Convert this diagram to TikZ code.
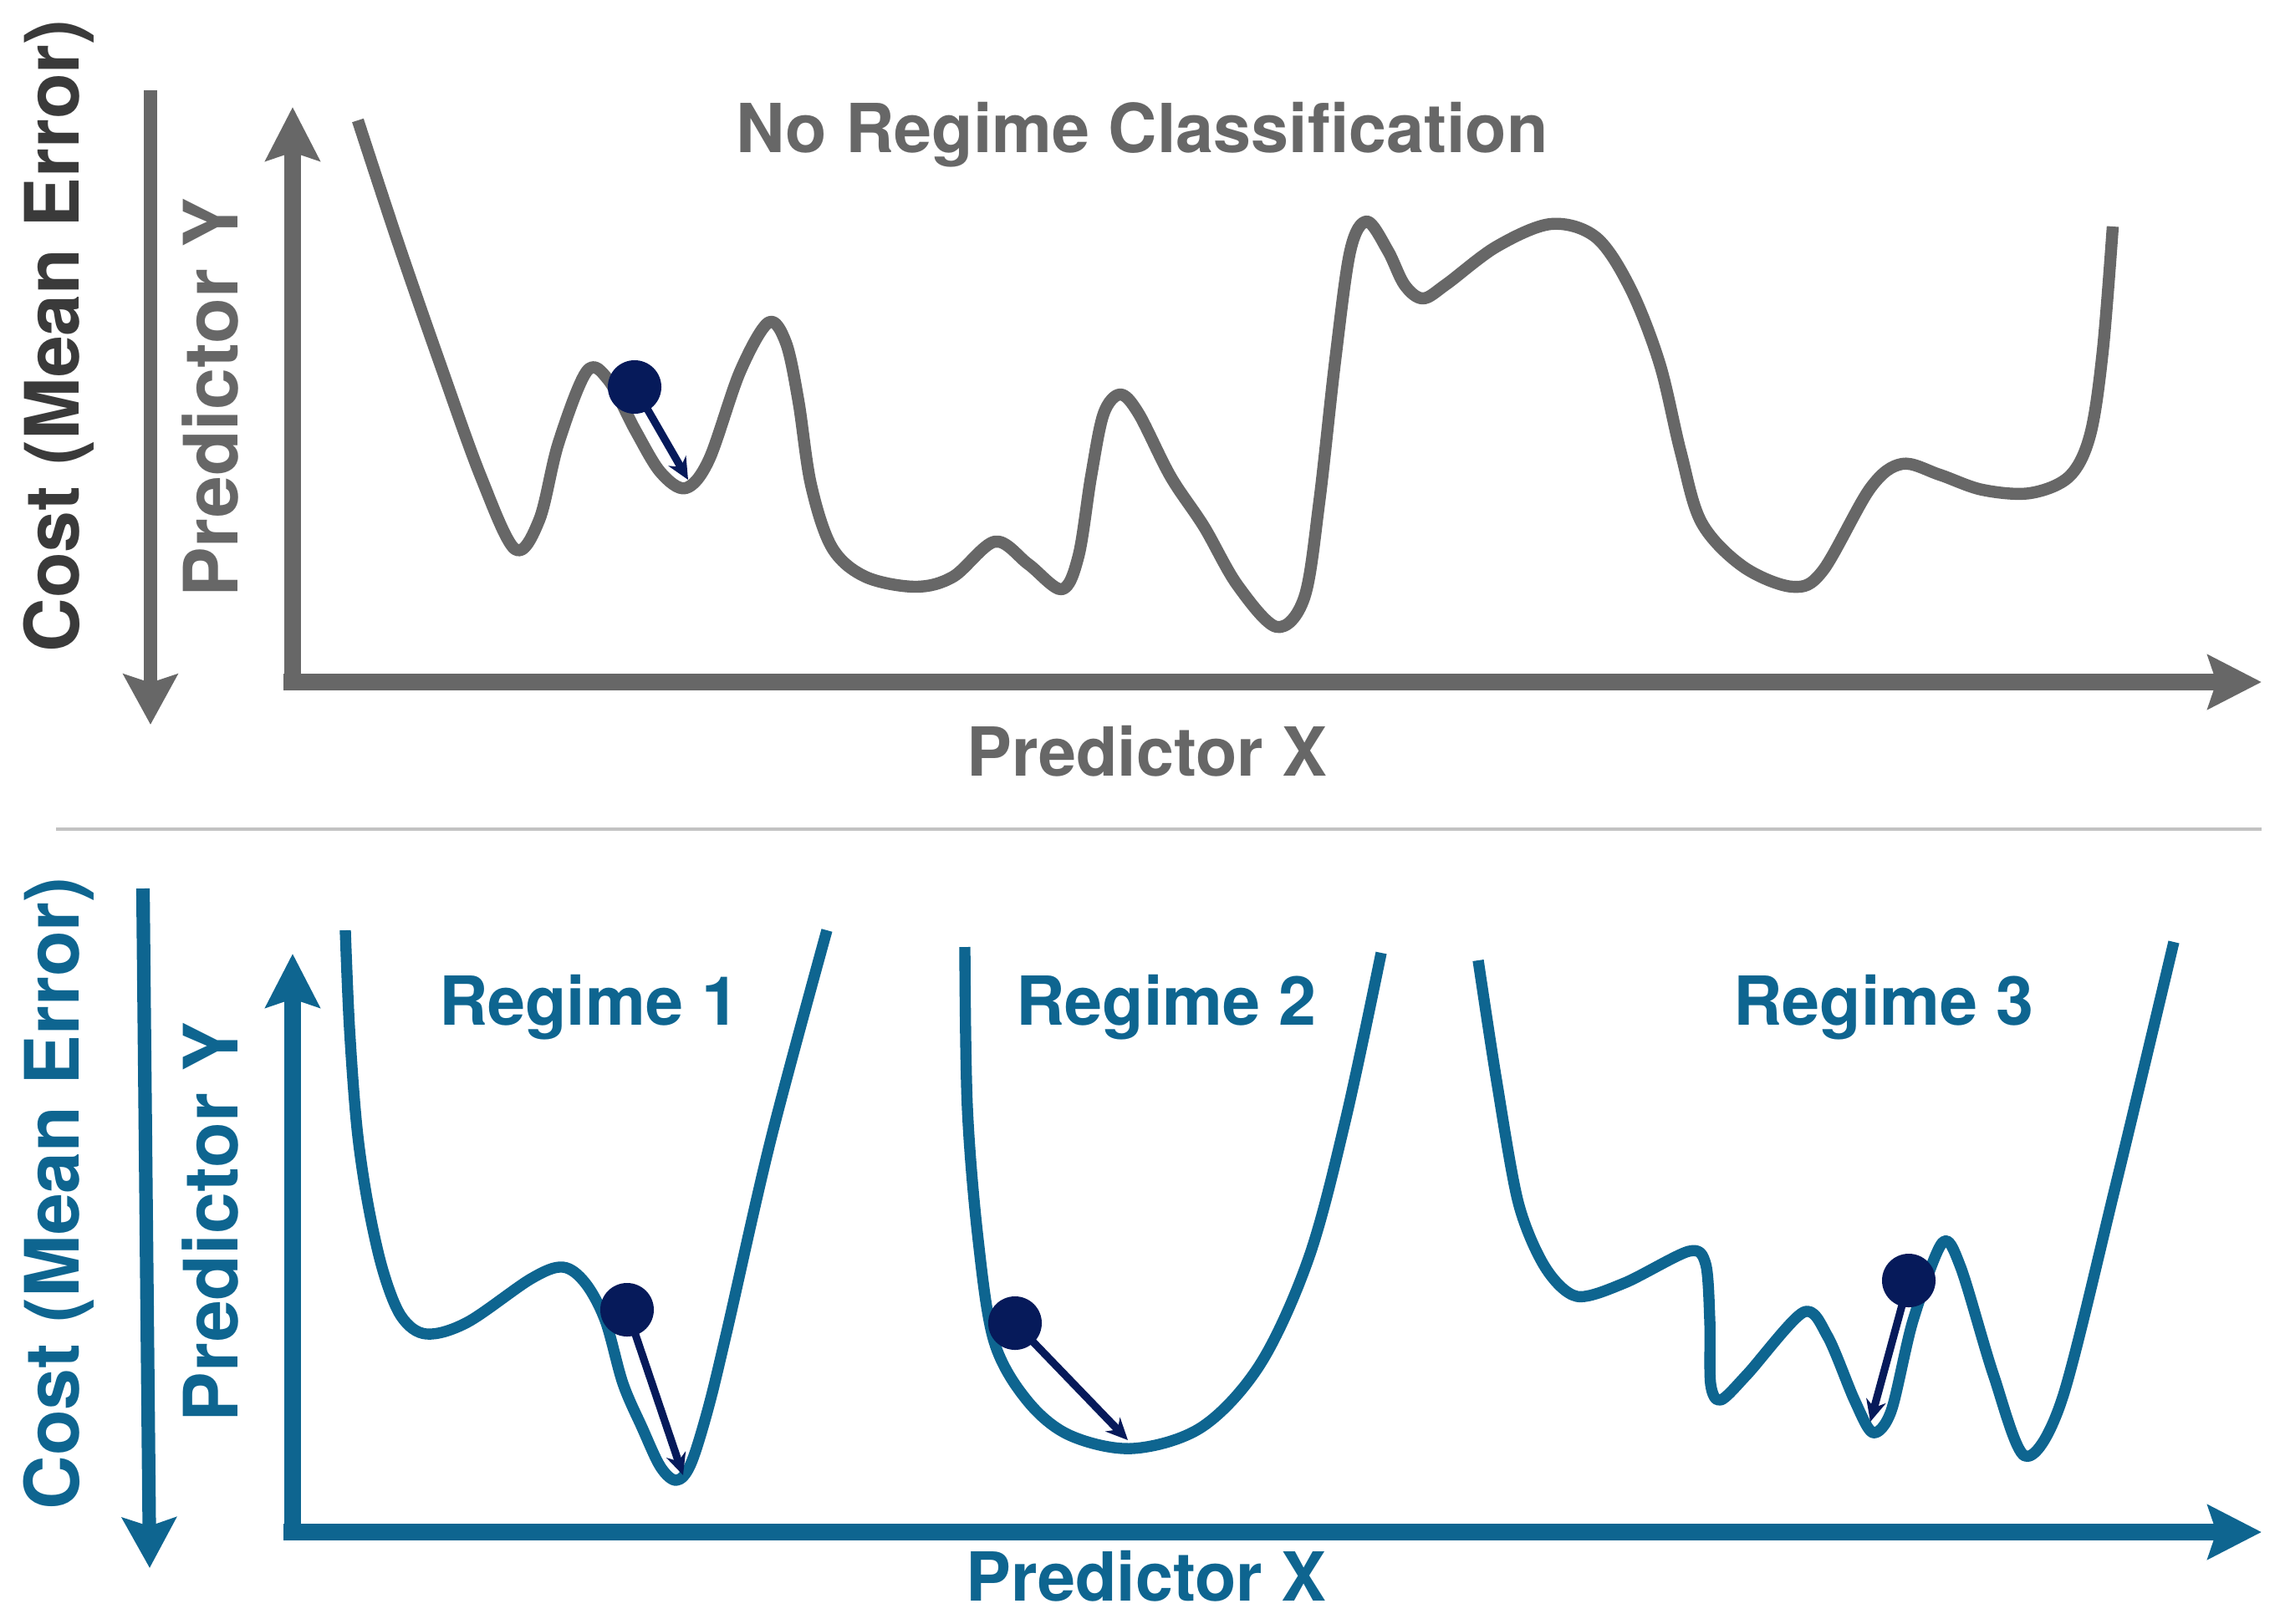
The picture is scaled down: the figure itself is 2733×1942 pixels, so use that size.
\documentclass[tikz,border=0pt]{standalone}
\usepackage{fontspec}
\setmainfont{TeX Gyre Heros}
\usetikzlibrary{arrows.meta}
\definecolor{cgray}{HTML}{676767}
\definecolor{cdark}{HTML}{3A3A3A}
\definecolor{cblue}{HTML}{0E6590}
\definecolor{cnavy}{HTML}{061A5A}
\definecolor{csep}{HTML}{C2C2C2}
\begin{document}
\begin{tikzpicture}[x=0.01cm,y=-0.01cm,
  lbl/.style={font=\fontsize{23}{24}\selectfont\bfseries, inner sep=0pt, anchor=base},
  sidelbl/.style={font=\fontsize{25.5}{26}\selectfont\bfseries, inner sep=0pt, anchor=base, rotate=90},
  axisline/.style={line width=5.8pt, -{Stealth[length=0.64cm,width=0.64cm,inset=0.1cm]}},
  costline/.style={line width=4.6pt, -{Stealth[length=0.6cm,width=0.64cm,inset=0.1cm]}},
  landscape/.style={line width=4.1pt, line join=round},
  ball/.style={circle, fill=cnavy, minimum size=0.64cm, inner sep=0pt},
  slide/.style={cnavy, line width=2.6pt, -{Stealth[length=0.26cm,width=0.24cm]}}
]
\useasboundingbox (0,0) rectangle (2733,1942);

% ---------------- top panel ----------------
\coordinate (tcTop) at (180,108);
\coordinate (tcBot) at (180,867);
\draw[costline, cgray] (tcTop) -- (tcBot);
\node[sidelbl, text=cdark] (tcost) at (94,402) {Cost (Mean Error)};
\node[sidelbl, text=cgray] (tpy) at (284,476) {Predictor Y};

\coordinate (tO) at (339,816);
\coordinate (tYtip) at (350,128);
\coordinate (tYbase) at (350,826);
\coordinate (tXtip) at (2705,816);
\draw[axisline, cgray] (tYbase) -- (tYtip);
\draw[axisline, cgray] (tO) -- (tXtip);

\node[lbl, text=cgray] (ttitle) at (1366,182) {No Regime Classification};
\node[lbl, text=cgray] (tpx) at (1372,928) {Predictor X};

\draw[landscape, cgray] plot[smooth, tension=0.55] coordinates {
 (428,144) (476,290) (527,437) (575,570) (616,657) (645,622) (668,530) (702,444)
 (728,455) (760,515) (790,565) (820,584) (848,550) (885,445) (919,386)
 (940,410) (955,480) (970,580) (995,655) (1035,690) (1095,702) (1140,690)
 (1190,648) (1230,675) (1270,705) (1290,665) (1305,570) (1320,495) (1340,472)
 (1362,495) (1400,570) (1440,630) (1480,700) (1527,750) (1560,715) (1578,600)
 (1597,431) (1615,300) (1635,265) (1660,300) (1680,341) (1702,357) (1730,340)
 (1790,295) (1855,268) (1909,284) (1950,345) (1985,435) (2010,540) (2035,625)
 (2085,678) (2144,702) (2180,683) (2237,584) (2275,555) (2320,568) (2371,586)
 (2428,590) (2475,570) (2500,520) (2515,420) (2527,271)};

\node[ball] (tball) at (759,463) {};
\coordinate (tend) at (823,574);
\draw[slide] (tball.center) -- (tend);

% separator
\coordinate (sepL) at (67,992);
\coordinate (sepR) at (2705,992);
\draw[csep, line width=1.1pt] (sepL) -- (sepR);

% ---------------- bottom panel ----------------
\coordinate (bcTop) at (171,1063);
\coordinate (bcBot) at (179,1876);
\draw[costline, cblue] (bcTop) -- (bcBot);
\node[sidelbl, text=cblue] (bcost) at (94,1428) {Cost (Mean Error)};
\node[sidelbl, text=cblue] (bpy) at (284,1462) {Predictor Y};

\coordinate (bO) at (339,1833);
\coordinate (bYtip) at (350,1141);
\coordinate (bYbase) at (350,1843);
\coordinate (bXtip) at (2705,1833);
\draw[axisline, cblue] (bYbase) -- (bYtip);
\draw[axisline, cblue] (bO) -- (bXtip);

\node[lbl, text=cblue] (bpx) at (1371,1915) {Predictor X};
\node[lbl, text=cblue] (r1) at (705,1226) {Regime 1};
\node[lbl, text=cblue] (r2) at (1395,1226) {Regime 2};
\node[lbl, text=cblue] (r3) at (2253,1226) {Regime 3};

% regime 1
\draw[landscape, cblue, line width=3.8pt] plot[smooth, tension=0.55] coordinates {
 (413,1113) (418,1230) (427,1350) (440,1440) (458,1520) (480,1575) (510,1596)
 (559,1582) (635,1530) (673,1516) (700,1535) (724,1580) (745,1655) (768,1708)
 (790,1755) (809,1771) (826,1752) (847,1685) (870,1590) (922,1363) (989,1113)};
\node[ball] (b1) at (750,1567) {};
\coordinate (e1) at (817,1765);
\draw[slide] (b1.center) -- (e1);

% regime 2
\draw[landscape, cblue, line width=3.8pt] plot[smooth, tension=0.55] coordinates {
 (1154,1133) (1157,1325) (1170,1484) (1189,1605) (1228,1675) (1279,1717)
 (1355,1733) (1438,1707) (1508,1631) (1566,1503) (1610,1337) (1652,1140)};
\node[ball] (b2) at (1214,1583) {};
\coordinate (e2) at (1349,1723);
\draw[slide] (b2.center) -- (e2);

% regime 3
\draw[landscape, cblue, line width=3.8pt] plot[smooth, tension=0.5] coordinates {
 (1768,1149) (1790,1293) (1816,1439) (1848,1516) (1886,1551) (1943,1535)
 (2020,1497) (2040,1512) (2045,1580) (2046,1656) (2058,1675) (2090,1644)
 (2157,1570) (2186,1599) (2218,1675) (2240,1714) (2262,1688) (2288,1580)
 (2323,1487) (2345,1516) (2384,1644) (2422,1742) (2466,1675) (2530,1420) (2600,1127)};
\node[ball] (b3) at (2283,1532) {};
\coordinate (e3) at (2237,1701);
\draw[slide] (b3.center) -- (e3);
\end{tikzpicture}
\end{document}
